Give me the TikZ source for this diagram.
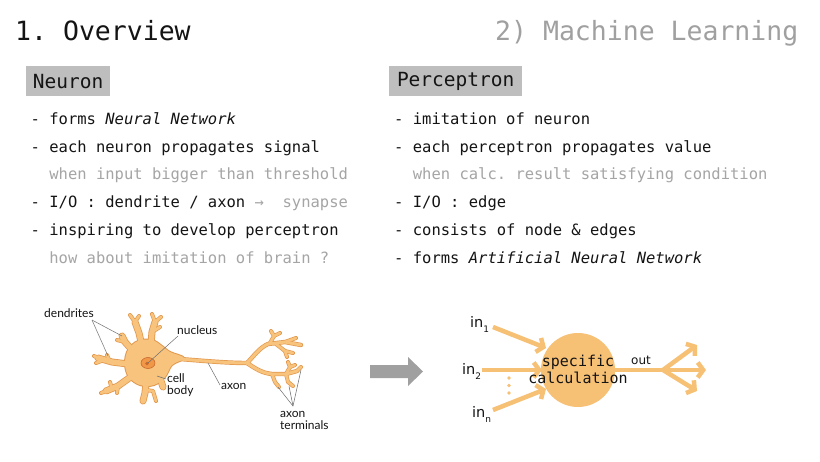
\documentclass[tikz,border=0pt]{standalone}
\usepackage{fontspec}
\setmainfont{DejaVu Sans}
\setmonofont{DejaVu Sans Mono}
\setsansfont{Lato}
\usetikzlibrary{arrows.meta}
\definecolor{TX}{RGB}{20,20,20}
\definecolor{GT}{RGB}{165,165,165}
\definecolor{HB}{RGB}{190,190,190}
\definecolor{NF}{RGB}{248,196,125}
\definecolor{ND}{RGB}{226,152,78}
\definecolor{NUC}{RGB}{240,152,72}
\definecolor{NUCD}{RGB}{200,105,45}
\definecolor{PO}{RGB}{246,192,117}
\definecolor{BA}{RGB}{160,160,160}
\definecolor{LL}{RGB}{110,110,110}
\newcommand\neuronshape{%
 \path[nb] plot[smooth cycle, tension=0.6] coordinates {(128,350) (138,341) (152,340) (162,346) (170,352) (184,358) (172,365) (165,377) (154,385) (140,385) (129,377) (125,364)};
 \path[nw2] (180,359) .. controls (205,361) and (228,363) .. (247,363);
 \path[nw2] (247,363) .. controls (254,356) and (259,348) .. (268,344) -- (285,342) -- (301,345);
 \path[nw3] (285,342) -- (296,338);
 \path[nw3] (270,343) -- (274,336) -- (271,331);
 \path[nw3] (274,336) -- (280,333);
 \path[nw3] (276,344) -- (285,351) -- (293,353);
 \path[nw3] (285,351) -- (287,357);
 \path[nw2] (247,363) .. controls (256,369) and (262,373) .. (272,374) -- (286,374) -- (297,371);
 \path[nw3] (297,371) -- (301,367);
 \path[nw3] (286,374) -- (290,367) -- (288,362);
 \path[nw3] (290,367) -- (295,365);
 \path[nw3] (272,374) -- (275,382) -- (279,387);
 \path[nw3] (286,374) -- (288,382) -- (293,386);
 \path[nw1] (142,346) -- (139,333) -- (135,322);
 \path[nw3] (135,322) -- (130,315);
 \path[nw3] (135,322) -- (139,316);
 \path[nw1] (151,344) -- (152,332) -- (155,322);
 \path[nw3] (155,322) -- (152,314);
 \path[nw3] (155,322) -- (161,317);
 \path[nw3] (152,332) -- (160,327);
 \path[nw1] (133,351) -- (125,342) -- (122,336);
 \path[nw3] (125,342) -- (117,340);
 \path[nw1] (128,364) -- (112,362) -- (98,358);
 \path[nw3] (110,362) -- (107,355);
 \path[nw3] (104,360) -- (96,363);
 \path[nw3] (98,358) -- (94,356);
 \path[nw1] (132,376) -- (118,386) -- (106,391);
 \path[nw3] (112,389) -- (110,382);
 \path[nw3] (106,391) -- (101,393);
 \path[nw3] (118,386) -- (117,393);
 \path[nw1] (146,383) -- (145,393) -- (143,401);
 \path[nw3] (146,390) -- (153,391) -- (156,401);
 \path[nw1] (160,378) -- (163,387);
}
\begin{document}
\begin{tikzpicture}[x=1pt,y=-1pt,
  title/.style={font=\fontsize{26.5}{30}\selectfont\ttfamily, anchor=base west, inner sep=0},
  bul/.style={font=\fontsize{15.5}{18}\selectfont\ttfamily, anchor=base west, inner sep=0, text=TX},
  hdr/.style={font=\fontsize{19.5}{22}\selectfont\ttfamily, fill=HB, text=TX, minimum height=30, inner sep=0, anchor=north west},
  lbl/.style={font=\fontsize{12}{11}\selectfont\sffamily, anchor=base west, inner sep=0, text=TX},
  inl/.style={font=\fontsize{14.5}{16}\selectfont, anchor=base west, inner sep=0, text=TX},
  lead/.style={draw=LL, line width=0.5},
  edge/.style={draw=PO, line width=4.5, -{Straight Barb[length=5.5pt, width=15pt]}},
  plain/.style={draw=PO, line width=4.5},
]
\useasboundingbox[fill=white] (0,0) rectangle (820,461);
% titles
\node[title, text=TX] (t1) at (15,40) {1. Overview};
\node[title, text=BA] (t2) at (495,40) {2) Machine Learning};
% headers
\node[hdr, minimum width=84] (hn) at (26,66) {Neuron};
\node[hdr, minimum width=133] (hp) at (389,66) {Perceptron};
% left bullets
\node[bul] (l1) at (30.5,124.5) {- forms \textit{Neural Network}};
\node[bul] (l2) at (30.5,152.2) {- each neuron propagates signal};
\node[bul, text=GT] (l3) at (30.5,179.9) {\phantom{--}when input bigger than threshold};
\node[bul] (l4) at (30.5,207.6) {- I/O : dendrite / axon \textcolor{GT}{→~~synapse}};
\node[bul] (l5) at (30.5,235.3) {- inspiring to develop perceptron};
\node[bul, text=GT] (l6) at (30.5,263) {\phantom{--}how about imitation of brain ?};
% right bullets
\node[bul] (r1) at (394,124.5) {- imitation of neuron};
\node[bul] (r2) at (394,152.2) {- each perceptron propagates value};
\node[bul, text=GT] (r3) at (394,179.9) {\phantom{--}when calc. result satisfying condition};
\node[bul] (r4) at (394,207.6) {- I/O : edge};
\node[bul] (r5) at (394,235.3) {- consists of node \& edges};
\node[bul] (r6) at (394,263) {- forms \textit{Artificial Neural Network}};
% neuron drawing
\begin{scope}[nb/.style={fill=ND, draw=ND, line width=2, line join=round},
  nw1/.style={draw=ND, line width=7, line cap=round, line join=round},
  nw2/.style={draw=ND, line width=4.4, line cap=round, line join=round},
  nw3/.style={draw=ND, line width=4, line cap=round, line join=round}]
  \neuronshape
\end{scope}
\begin{scope}[nb/.style={fill=NF},
  nw1/.style={draw=NF, line width=5.4, line cap=round, line join=round},
  nw2/.style={draw=NF, line width=3, line cap=round, line join=round},
  nw3/.style={draw=NF, line width=2.6, line cap=round, line join=round}]
  \neuronshape
\end{scope}
\path[fill=NUC, draw=NUCD, line width=0.6] (148,363) ellipse [x radius=7, y radius=5.5];
\path[fill=NUCD] (147,363.5) circle [radius=1.8];
% neuron labels
\node[lbl] (ldend) at (44,317) {dendrites};
\node[lbl] (lnuc) at (177,334) {nucleus};
\node[lbl] (lcell) at (167,382.5) {cell};
\node[lbl] (lbody) at (167,394.5) {body};
\node[lbl] (laxon) at (221,389) {axon};
\node[lbl] (lterm1) at (280,417) {axon};
\node[lbl] (lterm2) at (280,429.5) {terminals};
\coordinate (dA) at (92,320);
\coordinate (dt1) at (122,336);
\coordinate (dt2) at (108,356);
\coordinate (nt) at (148,363);
\coordinate (nA) at (178,336);
\coordinate (cA) at (166,379);
\coordinate (ct) at (157,376);
\coordinate (aA) at (220,385);
\coordinate (at) at (208,363);
\coordinate (tA) at (293,406);
\coordinate (tt1) at (278,387);
\coordinate (tt2) at (289,386);
\coordinate (tt3) at (301,370);
\draw[lead] (dA) -- (dt1);
\draw[lead] (dA) -- (dt2);
\draw[lead] (nA) -- (nt);
\draw[lead] (cA) -- (ct);
\draw[lead] (aA) -- (at);
\draw[lead] (tA) -- (tt1);
\draw[lead] (tA) -- (tt2);
\draw[lead] (tA) -- (tt3);
% big gray arrow
\fill[BA] (370,365) -- (408,365) -- (408,357) -- (423,371.5) -- (408,386) -- (408,378) -- (370,378) -- cycle;
% perceptron
\coordinate (i1s) at (493,327);
\coordinate (i1e) at (546,348);
\coordinate (i2s) at (482,370);
\coordinate (i2e) at (542,370);
\coordinate (i3s) at (493,410);
\coordinate (i3e) at (546,389);
\coordinate (br) at (663,370);
\coordinate (o1) at (697,345);
\coordinate (o2) at (706,370);
\coordinate (o3) at (697,391);
\node[circle, fill=PO, minimum size=74, inner sep=0] (calc) at (578,370) {};
\draw[edge] (i1s) -- (i1e);
\draw[edge] (i2s) -- (i2e);
\draw[edge] (i3s) -- (i3e);
\draw[plain] (calc.east) -- (br);
\draw[edge] (br) -- (o1);
\draw[edge] (br) -- (o2);
\draw[edge] (br) -- (o3);
\foreach \yy in {378,385.5,393} \fill[PO] (509,\yy) circle [radius=1.8];
\node[font=\fontsize{15}{17}\selectfont\ttfamily, align=center, text=TX, inner sep=0] (calctxt) at (578,369) {specific\\calculation};
\node[inl] (in1) at (470,327) {in\raisebox{-5pt}{\fontsize{9}{9}\selectfont 1}};
\node[inl] (in2) at (462,374) {in\raisebox{-5pt}{\fontsize{9}{9}\selectfont 2}};
\node[inl] (inn) at (472,417) {in\raisebox{-5pt}{\fontsize{9}{9}\selectfont n}};
\node[font=\fontsize{12}{14}\selectfont, anchor=base west, inner sep=0, text=TX] (out) at (631,364) {out};
\end{tikzpicture}
\end{document}
